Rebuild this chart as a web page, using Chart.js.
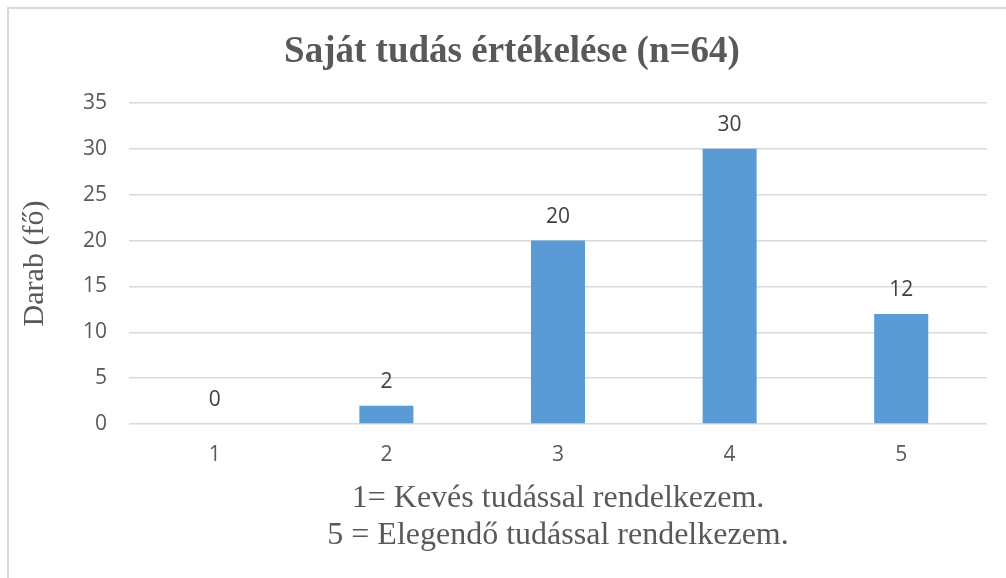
<!DOCTYPE html>
<html lang="hu">
<head>
    <meta charset="UTF-8">
    <title>Saját tudás értékelése</title>
    <script src="https://cdn.jsdelivr.net/npm/chart.js"></script>
    <style>
        html, body {
            margin: 0;
            padding: 0;
            background: #fff;
            overflow: hidden;
        }
        .frame {
            position: absolute;
            left: 7px;
            top: 7px;
            width: 1100px;
            height: 700px;
            border-left: 2px solid #d9d9d9;
            border-top: 2px solid #d9d9d9;
        }
        #chart {
            position: absolute;
            left: 0;
            top: 0;
        }
    </style>
</head>
<body>
    <div class="frame"></div>
    <canvas id="chart" width="1006" height="578"></canvas>

<script>
    // chart data
    const categories = ['1', '2', '3', '4', '5'];
    const counts = [0, 2, 20, 30, 12];
    const yTicks = [0, 5, 10, 15, 20, 25, 30, 35];

    const chartTitle = 'Saját tudás értékelése (n=64)';
    const yTitle = 'Darab (fő)';
    const xTitle = ['1= Kevés tudással rendelkezem.', '5 = Elegendő tudással rendelkezem.'];

    // the title sits a bit right of the canvas centre in the original, so draw it here
    const topTitle = {
        id: 'topTitle',
        afterDraw(chart) {
            const ctx = chart.ctx;
            ctx.save();
            ctx.font = 'bold 37px "Liberation Serif"';
            ctx.fillStyle = '#595959';
            ctx.textAlign = 'center';
            ctx.textBaseline = 'middle';
            ctx.fillText(chartTitle, 512, 52);
            ctx.restore();
        }
    };

    // value labels above the bars
    const barLabels = {
        id: 'barLabels',
        afterDatasetsDraw(chart) {
            const ctx = chart.ctx;
            const meta = chart.getDatasetMeta(0);
            ctx.save();
            ctx.font = '21px "Open Sans"';
            ctx.fillStyle = '#404040';
            ctx.textAlign = 'center';
            ctx.textBaseline = 'middle';
            meta.data.forEach((bar, i) => {
                ctx.fillText(String(counts[i]), bar.x, bar.y - 24);
            });
            ctx.restore();
        }
    };

    new Chart(document.getElementById('chart'), {
        type: 'bar',
        data: {
            labels: categories,
            datasets: [{
                data: counts,
                backgroundColor: '#5b9bd5',
                borderWidth: 0,
                barPercentage: 0.315,
                categoryPercentage: 1
            }]
        },
        options: {
            responsive: false,
            animation: false,
            layout: {
                padding: { left: 8, top: 103, right: 19, bottom: 0 }
            },
            plugins: {
                legend: { display: false },
                tooltip: { enabled: false },
                title: { display: false }
            },
            scales: {
                x: {
                    grid: { display: false, drawTicks: false },
                    border: { display: false },
                    ticks: {
                        color: '#595959',
                        font: { family: '"Open Sans"', size: 21 },
                        padding: 18
                    },
                    title: {
                        display: true,
                        text: xTitle,
                        color: '#595959',
                        font: { family: '"Liberation Serif"', size: 32, lineHeight: 1.16 },
                        padding: { top: 0, bottom: 24 }
                    },
                    afterFit(scale) {
                        scale.height = 154;
                    }
                },
                y: {
                    min: 0,
                    max: 35,
                    afterBuildTicks(scale) {
                        scale.ticks = yTicks.map(v => ({ value: v }));
                    },
                    grid: { color: '#d9d9d9', lineWidth: 1.5, drawTicks: false },
                    border: { display: false },
                    ticks: {
                        color: '#595959',
                        font: { family: '"Open Sans"', size: 21 },
                        padding: 22
                    },
                    title: {
                        display: true,
                        text: yTitle,
                        color: '#595959',
                        font: { family: '"Liberation Serif"', size: 30, lineHeight: 1.2 },
                        padding: { top: 9, bottom: 0 }
                    },
                    afterFit(scale) {
                        scale.width = 121;
                    }
                }
            }
        },
        plugins: [topTitle, barLabels]
    });
</script>
</body>
</html>
